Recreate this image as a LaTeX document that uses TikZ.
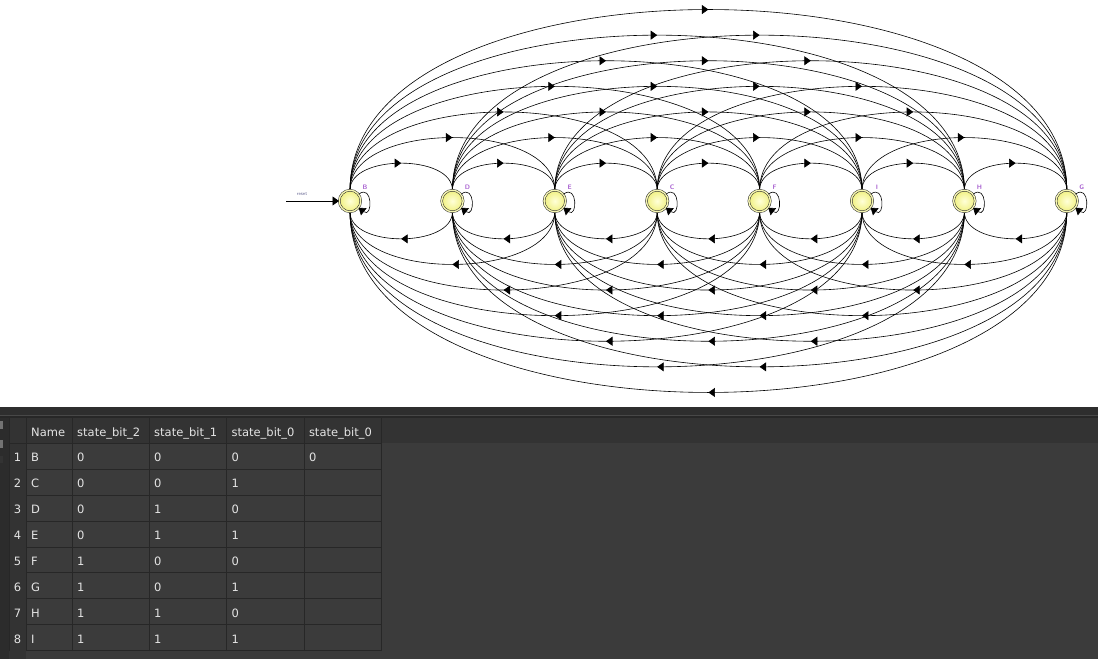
\documentclass[tikz,border=0pt]{standalone}
\usepackage{fontspec}
\newfontfamily\tablefont{DejaVu Sans}
\usetikzlibrary{arrows.meta,decorations.markings}
\pgfdeclarelayer{bg}
\pgfsetlayers{bg,main}
\definecolor{bgmain}{HTML}{3B3B3B}
\definecolor{hdr}{HTML}{333333}
\definecolor{topband}{HTML}{2E2E2E}
\definecolor{topline}{HTML}{484848}
\definecolor{gridc}{HTML}{272727}
\definecolor{txtc}{HTML}{E4E4E4}
\definecolor{leftc}{HTML}{2C2C2C}
\definecolor{lblc}{HTML}{A860D0}
\definecolor{stfill}{HTML}{F0F080}
\definecolor{stin}{HTML}{FFFFD8}
\definecolor{rstc}{HTML}{6A6A95}
\begin{document}
\begin{tikzpicture}[x=1pt,y=1pt,
  state/.style={circle, inner sep=0pt, minimum size=21.5pt, draw=black!85,
    line width=0.5pt, double=stfill!60!white, double distance=1.4pt,
    inner color=stin, outer color=stfill},
  arcf/.style={line width=0.6pt, postaction={decorate},
    decoration={markings, mark=at position 0.5 with {\arrow{Triangle[length=6.5pt,width=9pt]}}}},
  tipped/.style={line width=0.6pt, -{Triangle[length=6.5pt,width=9pt]}},
  lbl/.style={font=\sffamily\bfseries\fontsize{6.5}{6.5}\selectfont, text=lblc, inner sep=0pt},
  cell/.style={font=\tablefont\fontsize{11.5}{12}\selectfont, text=txtc, inner sep=0pt, anchor=base west},
  rnum/.style={font=\tablefont\fontsize{11.5}{12}\selectfont, text=txtc, inner sep=0pt, anchor=base},
  gridl/.style={draw=gridc, line width=1pt}
]
\useasboundingbox (0,0) rectangle (1098,659);

% ---------- table background ----------
\fill[bgmain] (0,0) rectangle (1098,251.5);
\fill[topband] (0,244) rectangle (1098,251.5);
\fill[topline] (0,242.5) rectangle (1098,244);
\fill[gridc] (0,241) rectangle (1098,242.5);
\fill[hdr] (9,215.5) rectangle (1098,241);
\fill[leftc] (0,0) rectangle (8.5,241);
\fill[black!55] (0,230) rectangle (3,238);
\fill[black!55] (0,211) rectangle (3,219);
\fill[black!80] (0,196) rectangle (3,203);
\fill[hdr] (9,0) rectangle (26,241);
% vertical grid lines
\foreach \gx in {9,26,72.3,149.3,226.7,304,381.7}{
  \draw[gridl] (\gx,8) -- (\gx,241);
}
% horizontal grid lines
\draw[gridl] (9,215.5) -- (381.7,215.5);
\foreach \k in {1,...,8}{
  \draw[gridl] (26,{215.5-25.9*\k}) -- (381.7,{215.5-25.9*\k});
}
% header texts
\node[cell] (hName) at (31,222) {Name};
\node[cell] (hB2) at (77,222) {state\_bit\_2};
\node[cell] (hB1) at (154,222) {state\_bit\_1};
\node[cell] (hB0) at (231.4,222) {state\_bit\_0};
\node[cell] (hB0b) at (308.8,222) {state\_bit\_0};
% rows
\foreach \k/\nm/\va/\vb/\vc in {1/B/0/0/0,2/C/0/0/1,3/D/0/1/0,4/E/0/1/1,5/F/1/0/0,6/G/1/0/1,7/H/1/1/0,8/I/1/1/1}{
  \pgfmathsetmacro\ry{197.3-25.9*(\k-1)}
  \node[rnum] (rn\k) at (17.5,\ry) {\k};
  \node[cell] (rname\k) at (31,\ry) {\nm};
  \node[cell] (rva\k) at (77,\ry) {\va};
  \node[cell] (rvb\k) at (154,\ry) {\vb};
  \node[cell] (rvc\k) at (231.4,\ry) {\vc};
}
\node[cell] (rvd1) at (308.8,197.3) {0};

% ---------- state diagram ----------
\foreach \nm/\i in {B/0,D/1,E/2,C/3,F/4,I/5,H/6,G/7}{
  \node[state] (\nm) at ({350+102.4*\i},458) {};
  \node[lbl] (l\nm) at ({365+102.4*\i},472) {\nm};
}
\begin{pgfonlayer}{bg}
\foreach \na/\i in {B/0,D/1,E/2,C/3,F/4,I/5,H/6,G/7}{
  \foreach \nb/\j in {B/0,D/1,E/2,C/3,F/4,I/5,H/6,G/7}{
    \ifnum\j>\i\relax
      \pgfmathsetmacro\cc{(38+25.6*(\j-\i-1)-2.9)/0.75}
      \draw[arcf] (\na) .. controls +(0,\cc) and +(0,\cc) .. (\nb);
      \draw[arcf] (\nb) .. controls +(0,-\cc) and +(0,-\cc) .. (\na);
    \fi
  }
}
\end{pgfonlayer}
\foreach \nm in {B,D,E,C,F,I,H,G}{
  \draw[tipped] (\nm) to[loop, out=38, in=-38, min distance=18pt] (\nm);
}
% reset
\coordinate (rst) at (286,458);
\draw[tipped, line width=0.7pt] (rst) -- (B);
\node[font=\sffamily\fontsize{5}{5}\selectfont, text=rstc, inner sep=0pt] (rlab) at (302,465) {reset};
\end{tikzpicture}
\end{document}
